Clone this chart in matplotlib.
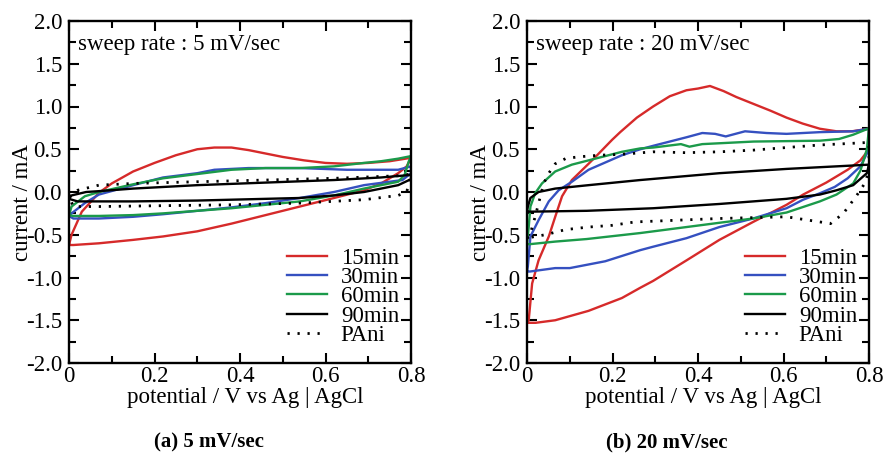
import numpy as np
import matplotlib
matplotlib.use("Agg")
import matplotlib.pyplot as plt
from matplotlib.ticker import MultipleLocator, FormatStrFormatter

plt.rcParams['font.family'] = ['Liberation Serif', 'DejaVu Serif']
plt.rcParams['axes.unicode_minus'] = False

## data: closed CV loops (forward branch then return branch), potential V / current mA
labels = ["15min", "30min", "60min", "90min", "PAni"]

# (a) 5 mV/sec
a15_x = [0.0, 0.006, 0.03, 0.07, 0.1, 0.15, 0.2, 0.25, 0.3, 0.34, 0.38, 0.42, 0.46, 0.5, 0.55, 0.6, 0.65, 0.7, 0.75, 0.8,
         0.8, 0.79, 0.77, 0.73, 0.69, 0.62, 0.54, 0.46, 0.38, 0.3, 0.22, 0.15, 0.07, 0.01, 0.0]
a15_y = [-0.62, -0.50, -0.23, -0.01, 0.10, 0.24, 0.34, 0.43, 0.50, 0.52, 0.52, 0.49, 0.45, 0.41, 0.37, 0.34, 0.33, 0.34, 0.36, 0.40,
         0.40, 0.30, 0.22, 0.10, 0.02, -0.07, -0.17, -0.27, -0.37, -0.46, -0.52, -0.56, -0.60, -0.62, -0.62]
a30_x = [0.0, 0.006, 0.037, 0.07, 0.15, 0.22, 0.3, 0.34, 0.42, 0.54, 0.65, 0.77, 0.8,
         0.8, 0.78, 0.69, 0.62, 0.54, 0.46, 0.38, 0.3, 0.22, 0.15, 0.07, 0.01, 0.0]
a30_y = [-0.28, -0.25, -0.13, -0.03, 0.08, 0.17, 0.22, 0.26, 0.28, 0.28, 0.26, 0.26, 0.30,
         0.22, 0.14, 0.08, 0.0, -0.07, -0.13, -0.18, -0.22, -0.26, -0.29, -0.31, -0.31, -0.28]
a60_x = [0.0, 0.006, 0.037, 0.07, 0.15, 0.22, 0.3, 0.38, 0.46, 0.54, 0.62, 0.69, 0.73, 0.77, 0.8,
         0.8, 0.795, 0.785, 0.77, 0.69, 0.62, 0.54, 0.46, 0.38, 0.3, 0.22, 0.15, 0.07, 0.01, 0.0]
a60_y = [-0.27, -0.17, -0.05, 0.0, 0.09, 0.16, 0.21, 0.26, 0.28, 0.28, 0.30, 0.34, 0.36, 0.39, 0.42,
         0.42, 0.36, 0.20, 0.12, 0.04, -0.04, -0.11, -0.15, -0.19, -0.22, -0.25, -0.27, -0.28, -0.28, -0.27]
a90_x = [0.0, 0.006, 0.04, 0.07, 0.15, 0.3, 0.46, 0.62, 0.73, 0.8,
         0.8, 0.77, 0.73, 0.69, 0.62, 0.54, 0.46, 0.3, 0.15, 0.02, 0.0]
a90_y = [-0.08, -0.04, 0.0, 0.01, 0.04, 0.08, 0.11, 0.14, 0.17, 0.20,
         0.15, 0.08, 0.04, 0.0, -0.04, -0.07, -0.08, -0.10, -0.11, -0.11, -0.08]
apa_x = [0.0, 0.02, 0.07, 0.15, 0.3, 0.46, 0.62, 0.77, 0.8,
         0.8, 0.79, 0.77, 0.69, 0.54, 0.38, 0.22, 0.07, 0.01, 0.0]
apa_y = [-0.05, 0.02, 0.08, 0.10, 0.12, 0.14, 0.16, 0.19, 0.21,
         0.21, 0.0, -0.04, -0.09, -0.13, -0.15, -0.16, -0.17, -0.17, -0.05]

# (b) 20 mV/sec
b15_x = [0.0, 0.004, 0.012, 0.027, 0.051, 0.066, 0.082, 0.105, 0.144, 0.164, 0.199, 0.218, 0.257, 0.295, 0.334, 0.373, 0.4, 0.428,
         0.46, 0.49, 0.53, 0.57, 0.607, 0.645, 0.685, 0.724, 0.76, 0.8,
         0.8, 0.78, 0.75, 0.7, 0.646, 0.607, 0.529, 0.45, 0.373, 0.295, 0.265, 0.222, 0.144, 0.066, 0.02, 0.0]
b15_y = [-1.53, -1.50, -1.07, -0.80, -0.52, -0.29, -0.05, 0.14, 0.33, 0.43, 0.61, 0.70, 0.87, 1.00, 1.12, 1.19, 1.21, 1.24,
         1.18, 1.11, 1.03, 0.95, 0.87, 0.80, 0.74, 0.71, 0.71, 0.74,
         0.50, 0.37, 0.26, 0.11, -0.03, -0.15, -0.35, -0.56, -0.80, -1.04, -1.12, -1.24, -1.39, -1.50, -1.53, -1.53]
b30_x = [0.0, 0.002, 0.008, 0.027, 0.051, 0.074, 0.105, 0.144, 0.222, 0.265, 0.295, 0.373, 0.41, 0.44, 0.465, 0.51, 0.56, 0.607, 0.685, 0.763, 0.8,
         0.8, 0.78, 0.75, 0.72, 0.685, 0.646, 0.607, 0.529, 0.45, 0.373, 0.295, 0.265, 0.183, 0.1, 0.066, 0.007, 0.0]
b30_y = [-0.93, -0.87, -0.52, -0.33, -0.11, 0.02, 0.12, 0.26, 0.43, 0.50, 0.54, 0.64, 0.69, 0.68, 0.65, 0.71, 0.69, 0.68, 0.70, 0.71, 0.74,
         0.50, 0.30, 0.16, 0.06, -0.015, -0.09, -0.19, -0.31, -0.41, -0.54, -0.64, -0.68, -0.81, -0.89, -0.89, -0.93, -0.93]
b60_x = [0.0, 0.004, 0.008, 0.019, 0.035, 0.066, 0.105, 0.144, 0.222, 0.265, 0.295, 0.36, 0.38, 0.41, 0.53, 0.685, 0.73, 0.763, 0.8,
         0.8, 0.795, 0.78, 0.763, 0.724, 0.685, 0.607, 0.529, 0.45, 0.373, 0.265, 0.14, 0.066, 0.007, 0.0]
b60_y = [-0.61, -0.41, -0.17, -0.015, 0.10, 0.24, 0.32, 0.37, 0.47, 0.51, 0.52, 0.56, 0.53, 0.56, 0.59, 0.60, 0.62, 0.67, 0.745,
         0.745, 0.50, 0.25, 0.10, -0.03, -0.11, -0.24, -0.31, -0.36, -0.41, -0.48, -0.55, -0.58, -0.61, -0.61]
b90_x = [0.0, 0.002, 0.008, 0.027, 0.066, 0.144, 0.265, 0.45, 0.607, 0.763, 0.8,
         0.8, 0.795, 0.763, 0.724, 0.685, 0.607, 0.529, 0.45, 0.295, 0.14, 0.007, 0.0]
b90_y = [-0.23, -0.17, -0.07, 0.0, 0.04, 0.08, 0.14, 0.22, 0.27, 0.31, 0.32,
         0.32, 0.22, 0.08, 0.02, -0.03, -0.08, -0.11, -0.14, -0.19, -0.22, -0.23, -0.23]
bpa_x = [0.0, 0.006, 0.019, 0.039, 0.051, 0.066, 0.09, 0.118, 0.168, 0.218, 0.295, 0.373, 0.45, 0.53, 0.607, 0.685, 0.763, 0.8,
         0.8, 0.79, 0.77, 0.74, 0.71, 0.685, 0.607, 0.45, 0.253, 0.199, 0.144, 0.09, 0.043, 0.019, 0.0]
bpa_y = [-0.54, -0.52, -0.29, 0.10, 0.22, 0.33, 0.39, 0.41, 0.43, 0.44, 0.47, 0.46, 0.47, 0.49, 0.52, 0.55, 0.57, 0.58,
         0.25, 0.10, -0.05, -0.25, -0.37, -0.35, -0.29, -0.31, -0.35, -0.39, -0.41, -0.44, -0.50, -0.52, -0.54]

colors = ["#d62a2a", "#3550c0", "#1b9a4a", "k", "k"]
styles = ["-", "-", "-", "-", (0, (0.8, 2.8))]

panels = [
    ([(a15_x, a15_y), (a30_x, a30_y), (a60_x, a60_y), (a90_x, a90_y), (apa_x, apa_y)],
     "sweep rate : 5 mV/sec", "(a) 5 mV/sec"),
    ([(b15_x, b15_y), (b30_x, b30_y), (b60_x, b60_y), (b90_x, b90_y), (bpa_x, bpa_y)],
     "sweep rate : 20 mV/sec", "(b) 20 mV/sec"),
]

## PLOT
fig = plt.figure(figsize=(8.86, 4.55), dpi=100)
lefts = [69/886, 527/886]

for k, (curves, note, caption) in enumerate(panels):
    ax = fig.add_axes([lefts[k], 1-363/455, 342/886, 342/455])
    for (cx, cy), c, ls, lab in zip(curves, colors, styles, labels):
        ax.plot(cx, cy, color=c, ls=ls, lw=2.0 if ls != "-" else 1.7, label=lab)

    ax.set_xlim(0, 0.8)
    ax.set_ylim(-2.0, 2.0)
    ax.xaxis.set_major_locator(MultipleLocator(0.2))
    ax.xaxis.set_minor_locator(MultipleLocator(0.1))
    ax.yaxis.set_major_locator(MultipleLocator(0.5))
    ax.yaxis.set_minor_locator(MultipleLocator(0.25))
    ax.xaxis.set_major_formatter(lambda v, p: "0" if abs(v) < 1e-9 else "{:.1f}".format(v))
    ax.yaxis.set_major_formatter(FormatStrFormatter("%.1f"))
    ax.tick_params(which="both", direction="in", top=True, right=True, width=1.5, labelsize=16.5)
    ax.tick_params(axis="x", pad=2)
    ax.tick_params(axis="y", pad=5)
    ax.tick_params(which="major", length=7)
    ax.tick_params(which="minor", length=5)
    for s in ax.spines.values():
        s.set_linewidth(1.7)

    ax.set_xlabel("potential / V vs Ag | AgCl", fontsize=16.5)
    ax.set_ylabel("current / mA", fontsize=16.5)
    ax.xaxis.set_label_coords(0.515, -0.07)
    ax.yaxis.set_label_coords(-0.105, 0.47)

    ax.text(0.026, 0.93, note, transform=ax.transAxes, fontsize=16.5, va="center", ha="left")

    ax.legend(loc="lower right", bbox_to_anchor=(0.965, 0.05), frameon=False, fontsize=16.5,
              handlelength=1.75, handletextpad=0.6, labelspacing=-0.08,
              borderaxespad=0, borderpad=0)

    fig.text(lefts[k] + 0.41*342/886, 1-442/455, caption, fontsize=15, fontweight="bold",
             ha="center", va="center")

plt.savefig("out.png", dpi=100)
plt.close(fig)
